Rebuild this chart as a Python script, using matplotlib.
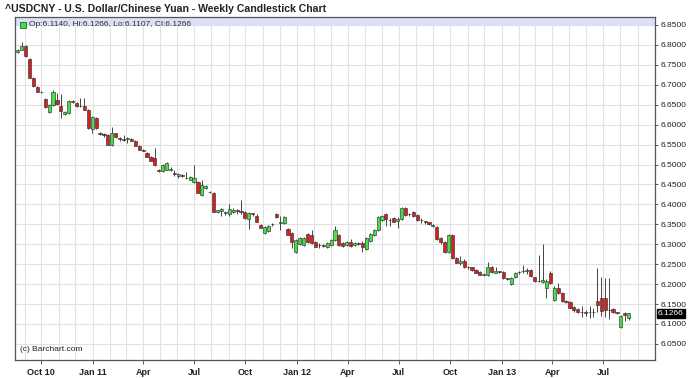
import matplotlib
matplotlib.use("Agg")
import matplotlib.pyplot as plt
import matplotlib.dates as mdates
import numpy as np
import datetime as dt

plt.rcParams['font.family'] = ['Liberation Sans', 'DejaVu Sans']

start_date = dt.date(2010, 8, 20)
opens = [6.782, 6.788, 6.797, 6.765, 6.718, 6.695, 6.682, 6.664, 6.632, 6.650,
         6.662, 6.647, 6.627, 6.628, 6.660, 6.655, 6.648, 6.647, 6.637, 6.590,
         6.617, 6.578, 6.576, 6.575, 6.550, 6.578, 6.566, 6.563, 6.563, 6.563,
         6.559, 6.547, 6.537, 6.529, 6.519, 6.516, 6.486, 6.484, 6.487, 6.486,
         6.478, 6.470, 6.474, 6.467, 6.462, 6.456, 6.456, 6.424, 6.441, 6.432,
         6.429, 6.381, 6.383, 6.378, 6.376, 6.380, 6.385, 6.383, 6.381, 6.363,
         6.377, 6.372, 6.348, 6.328, 6.333, 6.351, 6.376, 6.353, 6.353, 6.338,
         6.328, 6.280, 6.300, 6.297, 6.326, 6.323, 6.306, 6.298, 6.298, 6.293,
         6.298, 6.310, 6.323, 6.302, 6.298, 6.306, 6.297, 6.304, 6.304, 6.288,
         6.308, 6.323, 6.335, 6.361, 6.376, 6.361, 6.366, 6.358, 6.363, 6.391,
         6.376, 6.380, 6.373, 6.361, 6.357, 6.355, 6.349, 6.343, 6.315, 6.306,
         6.280, 6.323, 6.265, 6.252, 6.258, 6.243, 6.242, 6.236, 6.230, 6.224,
         6.223, 6.243, 6.229, 6.232, 6.230, 6.214, 6.200, 6.218, 6.231, 6.233,
         6.232, 6.235, 6.217, 6.209, 6.206, 6.190, 6.228, 6.160, 6.190, 6.178,
         6.157, 6.155, 6.143, 6.138, 6.131, 6.129, 6.131, 6.131, 6.157, 6.165,
         6.165, 6.136, 6.138, 6.129, 6.092, 6.128, 6.1140]
highs = [6.790, 6.808, 6.800, 6.766, 6.720, 6.697, 6.684, 6.666, 6.651, 6.688,
         6.680, 6.677, 6.634, 6.662, 6.662, 6.657, 6.668, 6.668, 6.640, 6.622,
         6.619, 6.582, 6.580, 6.577, 6.593, 6.580, 6.570, 6.575, 6.570, 6.566,
         6.561, 6.549, 6.540, 6.531, 6.521, 6.541, 6.489, 6.501, 6.506, 6.494,
         6.485, 6.479, 6.477, 6.481, 6.470, 6.499, 6.458, 6.460, 6.448, 6.434,
         6.431, 6.387, 6.390, 6.384, 6.401, 6.392, 6.388, 6.410, 6.384, 6.381,
         6.379, 6.375, 6.350, 6.345, 6.348, 6.353, 6.379, 6.370, 6.371, 6.340,
         6.330, 6.312, 6.318, 6.318, 6.328, 6.335, 6.308, 6.302, 6.300, 6.306,
         6.312, 6.345, 6.326, 6.305, 6.308, 6.312, 6.306, 6.306, 6.308, 6.318,
         6.327, 6.338, 6.370, 6.374, 6.378, 6.366, 6.368, 6.368, 6.393, 6.393,
         6.379, 6.383, 6.375, 6.365, 6.359, 6.357, 6.351, 6.345, 6.317, 6.308,
         6.325, 6.325, 6.267, 6.270, 6.262, 6.246, 6.244, 6.238, 6.232, 6.228,
         6.255, 6.245, 6.242, 6.234, 6.232, 6.216, 6.217, 6.230, 6.233, 6.248,
         6.240, 6.237, 6.219, 6.273, 6.300, 6.212, 6.232, 6.195, 6.203, 6.180,
         6.160, 6.157, 6.145, 6.140, 6.145, 6.135, 6.145, 6.140, 6.240, 6.218,
         6.215, 6.215, 6.140, 6.130, 6.122, 6.130, 6.1266]
lows = [6.780, 6.786, 6.770, 6.716, 6.694, 6.681, 6.680, 6.643, 6.630, 6.648,
        6.650, 6.617, 6.624, 6.626, 6.654, 6.644, 6.644, 6.636, 6.590, 6.579,
        6.590, 6.575, 6.570, 6.548, 6.546, 6.566, 6.560, 6.558, 6.555, 6.558,
        6.546, 6.536, 6.533, 6.518, 6.508, 6.497, 6.481, 6.482, 6.485, 6.484,
        6.472, 6.466, 6.468, 6.464, 6.460, 6.454, 6.428, 6.420, 6.439, 6.428,
        6.380, 6.378, 6.372, 6.374, 6.372, 6.378, 6.376, 6.376, 6.364, 6.338,
        6.372, 6.355, 6.340, 6.326, 6.330, 6.347, 6.367, 6.336, 6.350, 6.322,
        6.290, 6.277, 6.298, 6.295, 6.304, 6.300, 6.292, 6.291, 6.293, 6.291,
        6.296, 6.308, 6.296, 6.293, 6.296, 6.292, 6.295, 6.298, 6.280, 6.286,
        6.306, 6.321, 6.333, 6.359, 6.345, 6.346, 6.355, 6.340, 6.361, 6.371,
        6.372, 6.368, 6.359, 6.353, 6.352, 6.348, 6.343, 6.311, 6.300, 6.279,
        6.278, 6.264, 6.252, 6.248, 6.240, 6.238, 6.233, 6.227, 6.222, 6.220,
        6.221, 6.229, 6.227, 6.228, 6.214, 6.210, 6.198, 6.216, 6.226, 6.229,
        6.226, 6.219, 6.206, 6.205, 6.203, 6.165, 6.200, 6.158, 6.176, 6.156,
        6.152, 6.139, 6.130, 6.127, 6.117, 6.120, 6.115, 6.118, 6.130, 6.120,
        6.118, 6.112, 6.128, 6.124, 6.090, 6.108, 6.1107]
closes = [6.786, 6.798, 6.772, 6.718, 6.696, 6.683, 6.681, 6.645, 6.649, 6.681,
          6.652, 6.634, 6.632, 6.660, 6.656, 6.646, 6.646, 6.637, 6.592, 6.620,
          6.592, 6.577, 6.574, 6.550, 6.580, 6.568, 6.564, 6.562, 6.566, 6.560,
          6.547, 6.537, 6.535, 6.519, 6.509, 6.499, 6.484, 6.499, 6.504, 6.490,
          6.477, 6.476, 6.470, 6.466, 6.468, 6.466, 6.429, 6.449, 6.446, 6.431,
          6.381, 6.386, 6.388, 6.382, 6.388, 6.387, 6.384, 6.382, 6.366, 6.378,
          6.376, 6.356, 6.341, 6.343, 6.345, 6.350, 6.368, 6.355, 6.368, 6.323,
          6.306, 6.310, 6.315, 6.315, 6.306, 6.302, 6.293, 6.297, 6.296, 6.304,
          6.310, 6.335, 6.298, 6.295, 6.306, 6.296, 6.302, 6.300, 6.292, 6.316,
          6.325, 6.336, 6.368, 6.371, 6.363, 6.360, 6.356, 6.364, 6.391, 6.373,
          6.375, 6.370, 6.361, 6.360, 6.356, 6.350, 6.345, 6.313, 6.305, 6.281,
          6.323, 6.266, 6.253, 6.258, 6.242, 6.242, 6.235, 6.228, 6.223, 6.226,
          6.243, 6.231, 6.232, 6.231, 6.215, 6.213, 6.215, 6.228, 6.230, 6.232,
          6.235, 6.221, 6.208, 6.207, 6.210, 6.208, 6.203, 6.190, 6.178, 6.158,
          6.156, 6.140, 6.135, 6.130, 6.130, 6.128, 6.130, 6.130, 6.147, 6.133,
          6.135, 6.135, 6.130, 6.128, 6.121, 6.122, 6.1266]

y_ticks = [6.05, 6.10, 6.15, 6.20, 6.25, 6.30, 6.35, 6.40, 6.45, 6.50,
           6.55, 6.60, 6.65, 6.70, 6.75, 6.80, 6.85]
x_tick_dates = [dt.date(2010, 10, 1), dt.date(2011, 1, 1), dt.date(2011, 4, 1),
                dt.date(2011, 7, 1), dt.date(2011, 10, 1), dt.date(2012, 1, 1),
                dt.date(2012, 4, 1), dt.date(2012, 7, 1), dt.date(2012, 10, 1),
                dt.date(2013, 1, 1), dt.date(2013, 4, 1), dt.date(2013, 7, 1)]
x_tick_labels = ["Oct 10", "Jan 11", "Apr", "Jul", "Oct", "Jan 12", "Apr",
                 "Jul", "Oct", "Jan 13", "Apr", "Jul"]
title = "^USDCNY - U.S. Dollar/Chinese Yuan - Weekly Candlestick Chart"
legend_text = "Op:6.1140, Hi:6.1266, Lo:6.1107, Cl:6.1266"
last_label = "6.1266"

W, H = 688, 378
fig = plt.figure(figsize=(W / 100, H / 100), dpi=100)
ax = fig.add_axes([15 / W, 18 / H, 640 / W, 343 / H])

n = len(opens)
dates = [start_date + dt.timedelta(days=7 * i) for i in range(n)]
xs = mdates.date2num(dates)
O = np.array(opens); Hh = np.array(highs); L = np.array(lows); C = np.array(closes)

green = "#44e044"
red = "#d42020"
edge = "#333333"

ax.vlines(xs, L, Hh, color="#444444", linewidth=0.7, zorder=3)
bottoms = np.minimum(O, C)
heights = np.abs(C - O)
heights = np.maximum(heights, 0.0012)
colors = [green if c >= o else red for o, c in zip(O, C)]
ax.bar(xs, heights, bottom=bottoms, width=5.6, color=colors, edgecolor=edge,
       linewidth=0.45, zorder=4)

ymin, ymax = 6.0097, 6.870
ax.set_ylim(ymin, ymax)
x0 = mdates.date2num(dt.date(2010, 8, 15))
x1 = mdates.date2num(dt.date(2013, 10, 2))
ax.set_xlim(x0, x1)

# lavender legend band
ax.axhspan(6.8475, ymax, color="#dcdff7", zorder=1, linewidth=0)

# grid
for y in y_ticks:
    ax.axhline(y, color="#e2e2e2", linewidth=0.8, zorder=0)
m = dt.date(2010, 9, 1)
while m < dt.date(2013, 10, 1):
    ax.axvline(mdates.date2num(m), color="#e2e2e2", linewidth=0.8, zorder=0)
    m = dt.date(m.year + (m.month // 12), m.month % 12 + 1, 1)

ax.yaxis.tick_right()
ax.set_yticks(y_ticks)
ax.set_yticklabels([f"{v:.4f}" for v in y_ticks], fontsize=6.1, color="#222222")
ax.set_xticks(mdates.date2num(x_tick_dates))
ax.set_xticklabels(x_tick_labels, fontsize=6.5, fontweight="bold", color="#222222")
ax.tick_params(axis="y", length=2.5, width=0.6, pad=1.5, colors="#444444", labelcolor="#222222")
ax.tick_params(axis="x", length=3, width=0.6, pad=3, colors="#444444", labelcolor="#222222")
for s in ax.spines.values():
    s.set_color("#555555")
    s.set_linewidth(0.9)

fig.text(5 / W, 1 - 9 / H, title, fontsize=7.6, fontweight="bold",
         color="#222222", va="center", ha="left")

ax.plot([0.012], [0.978], marker="s", markersize=4, color=green,
        markeredgecolor="#226622", markeredgewidth=0.6, transform=ax.transAxes,
        zorder=6, clip_on=False)
ax.text(0.022, 0.978, legend_text, fontsize=6, color="#333333",
        transform=ax.transAxes, va="center", ha="left", zorder=6)

ax.text(0.008, 0.03, "(c) Barchart.com", fontsize=6, color="#222222",
        transform=ax.transAxes, va="center", ha="left")

ax.annotate(last_label, xy=(1.0, closes[-1]), xycoords=("axes fraction", "data"),
            xytext=(2, 0), textcoords="offset points", fontsize=6.1,
            color="white", va="center", ha="left",
            bbox=dict(boxstyle="square,pad=0.12", fc="black", ec="black"))

fig.savefig("out.png", dpi=100)
